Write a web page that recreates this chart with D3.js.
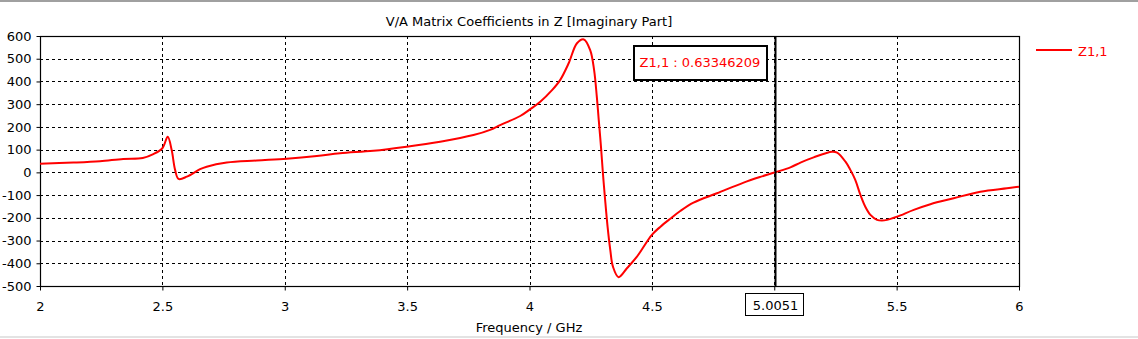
<!DOCTYPE html>
<html>
<head>
<meta charset="utf-8">
<script src="https://cdn.jsdelivr.net/npm/d3@7"></script>
<style>
  html, body { margin: 0; padding: 0; background: #fff; }
  svg { display: block; }
  text { font-family: "DejaVu Sans", sans-serif; }
</style>
</head>
<body>
<svg id="chart" width="1138" height="339"></svg>
<script>
// ---- data ----
const title = "V/A Matrix Coefficients in Z [Imaginary Part]";
const xLabel = "Frequency / GHz";
const seriesName = "Z1,1";
const xTicks = [2, 2.5, 3, 3.5, 4, 4.5, 5, 5.5, 6];
const yTicks = [600, 500, 400, 300, 200, 100, 0, -100, -200, -300, -400, -500];
const freq = [2.0, 2.137, 2.245, 2.34, 2.42, 2.463, 2.5, 2.522, 2.538, 2.552, 2.566, 2.6, 2.654,
  2.681, 2.763, 2.886, 3.008, 3.131, 3.226, 3.362, 3.498, 3.635, 3.771, 3.839, 3.88, 3.962,
  4.003, 4.044, 4.092, 4.125, 4.16, 4.194, 4.222, 4.248, 4.264, 4.275, 4.283, 4.292, 4.3,
  4.309, 4.319, 4.33, 4.341, 4.364, 4.398, 4.439, 4.5, 4.534, 4.575, 4.616, 4.67, 4.766,
  4.875, 4.943, 5.005, 5.066, 5.107, 5.161, 5.236, 5.257, 5.291, 5.311, 5.331, 5.352,
  5.372, 5.393, 5.42, 5.44, 5.461, 5.502, 5.57, 5.638, 5.733, 5.842, 5.951, 6.0];
const zim = [38, 43, 49, 59, 63, 80, 106, 157, 98, 11, -29, -19, 14,
  25, 43, 52, 60, 72, 84, 95, 113, 135, 164, 187, 208, 248,
  278, 311, 362, 406, 480, 568, 585, 538, 450, 333, 230, 113, -4,
  -121, -239, -341, -415, -461, -422, -371, -275, -240, -204, -170, -133, -92,
  -45, -20, 0.6, 22, 43, 66, 91, 87, 47, 11, -33, -99,
  -151, -187, -209, -212, -209, -195, -165, -140, -114, -85, -70, -63];
const markerFreq = 5.0051;
const markerLabel = "5.0051";
const markerValueText = "Z1,1 : 0.63346209";

// ---- layout ----
const svg = d3.select("#chart");
const W = 1138, H = 339;
const L = 40, R = 1019, T = 36, B = 286;
const x = d3.scaleLinear().domain([2, 6]).range([L, R]);
const y = d3.scaleLinear().domain([-500, 600]).range([B, T]);

// window border lines
svg.append("rect").attr("x", 0).attr("y", 0).attr("width", W).attr("height", 2).attr("fill", "#a0a0a0");
svg.append("rect").attr("x", 0).attr("y", 336).attr("width", W).attr("height", 2).attr("fill", "#e3e3e3");

// title
svg.append("text").attr("x", 529).attr("y", 26).attr("text-anchor", "middle")
  .attr("font-size", 13).attr("fill", "#000").text(title);

// grid
const grid = svg.append("g").attr("stroke", "#000").attr("stroke-width", 1).attr("stroke-dasharray", "3,3");
grid.selectAll("line.h").data(yTicks.filter(v => v !== 600 && v !== -500)).join("line")
  .attr("x1", L).attr("x2", R)
  .attr("y1", d => Math.round(y(d)) + 0.5).attr("y2", d => Math.round(y(d)) + 0.5);
grid.selectAll("line.v").data(xTicks.filter(v => v !== 2 && v !== 6)).join("line")
  .attr("y1", T).attr("y2", B)
  .attr("x1", d => Math.round(x(d)) + 0.5).attr("x2", d => Math.round(x(d)) + 0.5);

// frame
svg.append("rect").attr("x", L + 0.5).attr("y", T + 0.5).attr("width", R - L).attr("height", B - T)
  .attr("fill", "none").attr("stroke", "#000").attr("stroke-width", 1.2);

// axes
const yAxis = svg.append("g").attr("transform", `translate(${L + 0.5},0)`)
  .call(d3.axisLeft(y).tickValues(yTicks).tickSize(4).tickPadding(5).tickFormat(d => String(d)));
yAxis.select(".domain").remove();
yAxis.selectAll("text").attr("font-size", 13).attr("font-family", "DejaVu Sans").attr("fill", "#000");

const xAxis = svg.append("g").attr("transform", `translate(0,${B + 0.5})`)
  .call(d3.axisBottom(x).tickValues(xTicks).tickSize(4).tickPadding(11).tickFormat(d => String(d)));
xAxis.select(".domain").remove();
xAxis.selectAll("text").attr("font-size", 13).attr("font-family", "DejaVu Sans").attr("fill", "#000");
xAxis.selectAll(".tick").filter(d => d === 5).select("text").remove();

// x axis label
svg.append("text").attr("x", 529).attr("y", 332).attr("text-anchor", "middle")
  .attr("font-size", 13).attr("fill", "#000").text(xLabel);

// curve
const pts = freq.map((f, i) => [f, zim[i]]);
svg.append("path").datum(pts)
  .attr("fill", "none").attr("stroke", "#ff0000").attr("stroke-width", 2)
  .attr("d", d3.line().x(d => x(d[0])).y(d => y(d[1])).curve(d3.curveCatmullRom.alpha(0.5)));

// marker line
const mx = x(markerFreq);
svg.append("line").attr("x1", mx).attr("x2", mx).attr("y1", T).attr("y2", B)
  .attr("stroke", "#000").attr("stroke-width", 2);

// marker x label box
const mlab = svg.append("g");
mlab.append("rect").attr("x", Math.round(mx) - 29.5).attr("y", 293.5).attr("width", 58).attr("height", 22)
  .attr("fill", "#fff").attr("stroke", "#000").attr("stroke-width", 1);
mlab.append("text").attr("x", mx).attr("y", 309.5).attr("text-anchor", "middle")
  .attr("font-size", 13).attr("fill", "#000").text(markerLabel);

// marker value box
svg.append("rect").attr("x", 634).attr("y", 46).attr("width", 133).attr("height", 34)
  .attr("fill", "#fff").attr("stroke", "#000").attr("stroke-width", 2);
svg.append("text").attr("x", 700).attr("y", 67).attr("text-anchor", "middle")
  .attr("font-size", 13).attr("fill", "#ff0000").text(markerValueText);

// legend
svg.append("line").attr("x1", 1036).attr("x2", 1072).attr("y1", 50).attr("y2", 50)
  .attr("stroke", "#ff0000").attr("stroke-width", 2);
svg.append("text").attr("x", 1078).attr("y", 56).attr("font-size", 13).attr("fill", "#ff0000").text(seriesName);
</script>
</body>
</html>
